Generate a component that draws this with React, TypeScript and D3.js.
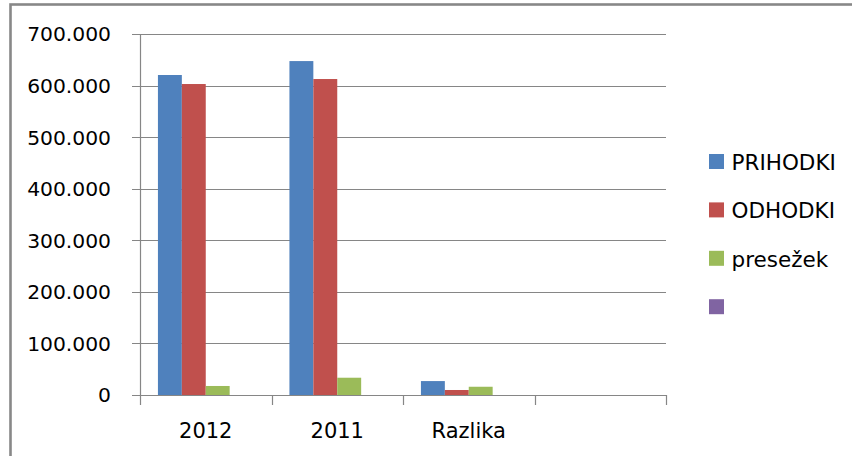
import React from "react";
import * as d3 from "d3";

const categories = ["2012", "2011", "Razlika", " "];
const seriesNames = ["PRIHODKI", "ODHODKI", "presežek", ""];
const prihodki = [620500, 647500, 27000];
const odhodki = [603000, 612700, 9700];
const presezek = [17500, 33500, 16000];
const prazno: number[] = [];
const yTicks = [0, 100000, 200000, 300000, 400000, 500000, 600000, 700000];

const colors = ["#4F81BD", "#C0504D", "#9BBB59", "#8064A2"];

const W = 852;
const H = 456;
const FONT = "'DejaVu Sans', Verdana, sans-serif";

export default function App() {
  const seriesValues = [prihodki, odhodki, presezek, prazno];
  const x = d3.scaleBand<string>().domain(categories).range([140, 666]).paddingInner(0).paddingOuter(0);
  const xs = d3
    .scaleBand<string>()
    .domain(seriesNames.map((_, i) => String(i)))
    .range([0, x.bandwidth()])
    .paddingInner(0)
    .paddingOuter(0.75);
  const y = d3.scaleLinear().domain([0, 700000]).range([395, 34]);
  const fmt = d3.formatLocale({ decimal: ",", thousands: ".", grouping: [3], currency: ["", "€"] }).format(",.0f");

  const boundaries = categories.map((c) => x(c) as number).concat([x.range()[1]]);

  return (
    <svg width={W} height={H} style={{ position: "absolute", left: 0, top: 0, background: "#fff" }}>
      <rect x={10.5} y={4.5} width={W + 20} height={H + 20} fill="#fff" stroke="#888" strokeWidth={2.6} />
      {yTicks.map((t) => (
        <g key={t}>
          <line x1={132} x2={666} y1={Math.round(y(t)) + 0.5} y2={Math.round(y(t)) + 0.5} stroke="#868686" strokeWidth={1.2} />
          <text x={111} y={y(t) + 7.4} textAnchor="end" fontFamily={FONT} fontSize={20.3} fill="#000">
            {fmt(t)}
          </text>
        </g>
      ))}
      <line x1={140.5} x2={140.5} y1={y(700000)} y2={395} stroke="#868686" strokeWidth={1.2} />
      {boundaries.map((b, i) => (
        <line key={i} x1={Math.round(b) + 0.5} x2={Math.round(b) + 0.5} y1={395} y2={405} stroke="#868686" strokeWidth={1.2} />
      ))}
      {seriesValues.map((vals, si) =>
        vals.map((v, ci) => (
          <rect
            key={`${si}-${ci}`}
            x={(x(categories[ci]) as number) + (xs(String(si)) as number)}
            y={y(v)}
            width={xs.bandwidth()}
            height={y(0) - y(v)}
            fill={colors[si]}
          />
        ))
      )}
      {categories.map((c) => (
        <text key={c} x={(x(c) as number) + x.bandwidth() / 2} y={438} textAnchor="middle" fontFamily={FONT} fontSize={21} fill="#000">
          {c}
        </text>
      ))}
      {seriesNames.map((s, i) => {
        const top = 154 + i * 48.4;
        return (
          <g key={i}>
            <rect x={709} y={top} width={15} height={15} fill={colors[i]} />
            <text x={731.5} y={top + 16} fontFamily={FONT} fontSize={21.5} fill="#000">
              {s}
            </text>
          </g>
        );
      })}
    </svg>
  );
}
